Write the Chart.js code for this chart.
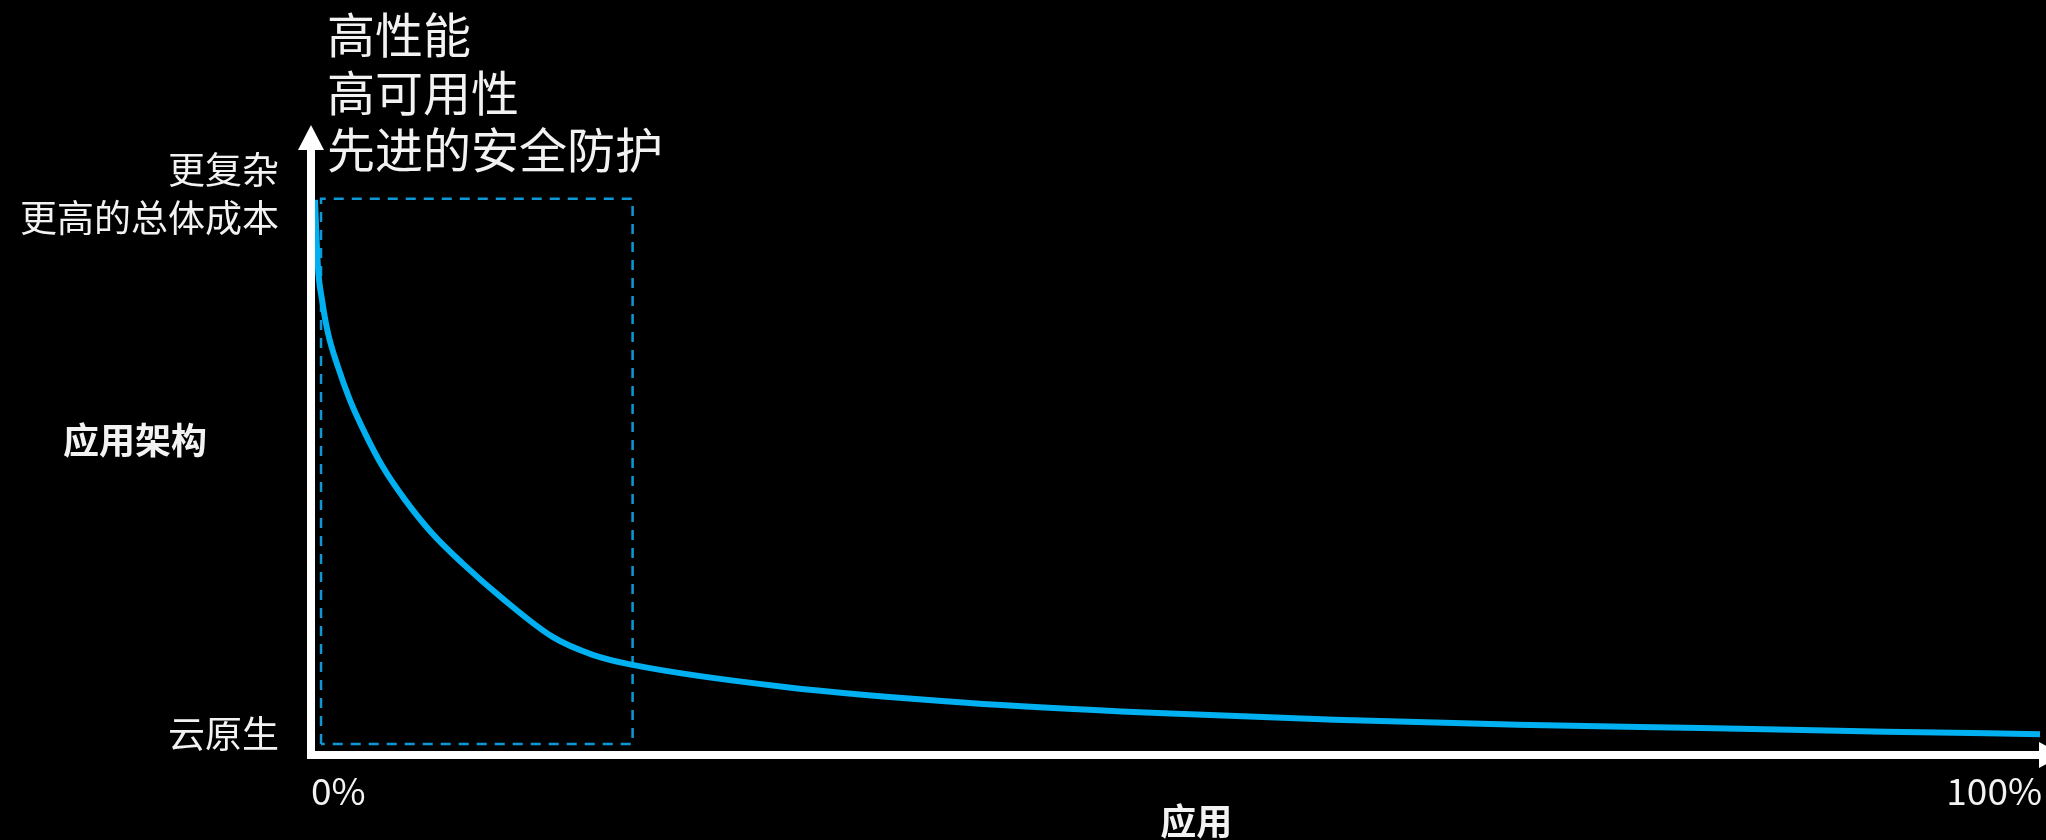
<!DOCTYPE html>
<html>
<head>
<meta charset="utf-8">
<script src="https://cdn.jsdelivr.net/npm/chart.js@4"></script>
<style>
  html, body { margin: 0; padding: 0; background: #000; }
  #wrap { width: 2046px; height: 840px; position: relative; }
</style>
</head>
<body>
<div id="wrap"><canvas id="c" width="2046" height="840"></canvas></div>
<script>
// ---- data ----
const curveX = [0.23, 0.40, 0.64, 0.98, 1.56, 2.26, 3.12, 4.16, 5.44, 7.00, 8.73, 11.05, 14.0, 16.3, 18.6, 27.4, 37.9, 48.6, 59.2, 69.8, 80.4, 91.1, 100];
const curveY = [88.1, 77.5, 72.2, 67.0, 61.6, 56.3, 51.1, 45.7, 40.5, 35.2, 30.5, 24.9, 18.7, 15.9, 14.3, 10.8, 8.3, 6.7, 5.6, 4.8, 4.3, 3.7, 3.3];
const boxX = [0.58, 0.58, 18.6, 18.6, 0.58];
const boxY = [1.75, 88.3, 88.3, 1.75, 1.75];
const xTickValues = [0, 100];
const xTickLabels = ['0%', '100%'];
const yTickValues = [3.3, 89];
const yTickLabels = [['云原生'], ['更复杂', '更高的总体成本']];
const xAxisTitle = '应用';
const yAxisTitle = '应用架构';
const noteLines = ['高性能', '高可用性', '先进的安全防护'];

const FONT = '"Noto Sans CJK SC", "Noto Sans", sans-serif';
const TEXT = '#F2F2F2';

const overlay = {
  id: 'overlay',
  afterDatasetsDraw(chart) {
    const ctx = chart.ctx;
    const xs = chart.scales.x, ys = chart.scales.y;
    const x0 = xs.getPixelForValue(0);
    const y0 = ys.getPixelForValue(0);
    const yTop = ys.getPixelForValue(100);
    const xEnd = xs.getPixelForValue(100);
    ctx.save();
    // axes
    ctx.fillStyle = '#FFFFFF';
    ctx.fillRect(x0 - 4, yTop + 24, 8, y0 - yTop - 20);
    ctx.fillRect(x0 - 4, y0 - 4, xEnd - x0 + 4, 8);
    // y arrow
    ctx.beginPath();
    ctx.moveTo(x0, yTop);
    ctx.lineTo(x0 - 13, yTop + 25);
    ctx.lineTo(x0 + 13, yTop + 25);
    ctx.closePath();
    ctx.fill();
    // x arrow
    ctx.beginPath();
    ctx.moveTo(xEnd + 24, y0);
    ctx.lineTo(xEnd - 1, y0 - 13);
    ctx.lineTo(xEnd - 1, y0 + 13);
    ctx.closePath();
    ctx.fill();

    ctx.fillStyle = TEXT;
    ctx.textBaseline = 'middle';
    // y tick labels
    ctx.font = '37px ' + FONT;
    ctx.textAlign = 'right';
    yTickValues.forEach((v, i) => {
      const lines = yTickLabels[i];
      const cy = ys.getPixelForValue(v);
      const lh = 48;
      lines.forEach((t, j) => {
        ctx.fillText(t, x0 - 32, cy + (j - (lines.length - 1) / 2) * lh);
      });
    });
    // x tick labels
    xTickValues.forEach((v, i) => {
      const px = xs.getPixelForValue(v);
      ctx.textAlign = i === 0 ? 'left' : 'right';
      ctx.fillText(xTickLabels[i], i === 0 ? px : px + 2, y0 + 36);
    });
    // axis titles
    ctx.font = 'bold 36px ' + FONT;
    ctx.textAlign = 'center';
    ctx.fillText(xAxisTitle, xs.getPixelForValue(51.2), y0 + 66);
    ctx.fillText(yAxisTitle, 135, ys.getPixelForValue(50));
    // note text
    ctx.font = '48px ' + FONT;
    ctx.textAlign = 'left';
    noteLines.forEach((t, j) => {
      ctx.fillText(t, x0 + 16, 35 + j * 57.5);
    });
    ctx.restore();
  }
};

new Chart(document.getElementById('c'), {
  type: 'line',
  data: {
    datasets: [
      {
        label: 'curve',
        data: curveX.map((x, i) => ({ x: x, y: curveY[i] })),
        borderColor: '#00B0F0',
        borderWidth: 6,
        cubicInterpolationMode: 'monotone',
        pointRadius: 0,
        fill: false,
        clip: false
      },
      {
        label: 'box',
        data: boxX.map((x, i) => ({ x: x, y: boxY[i] })),
        borderColor: '#0C98D6',
        borderWidth: 2.5,
        borderDash: [10, 8],
        tension: 0,
        pointRadius: 0,
        fill: false,
        clip: false
      }
    ]
  },
  options: {
    responsive: false,
    animation: false,
    devicePixelRatio: 1,
    layout: { padding: { left: 311, right: 6, top: 125, bottom: 85 } },
    plugins: { legend: { display: false }, tooltip: { enabled: false } },
    scales: {
      x: { type: 'linear', min: 0, max: 100, display: false },
      y: { type: 'linear', min: 0, max: 100, display: false }
    }
  },
  plugins: [overlay, {
    id: 'bg',
    beforeDraw(chart) {
      const ctx = chart.ctx;
      ctx.save();
      ctx.fillStyle = '#000';
      ctx.fillRect(0, 0, chart.width, chart.height);
      ctx.restore();
    }
  }]
});
</script>
</body>
</html>
